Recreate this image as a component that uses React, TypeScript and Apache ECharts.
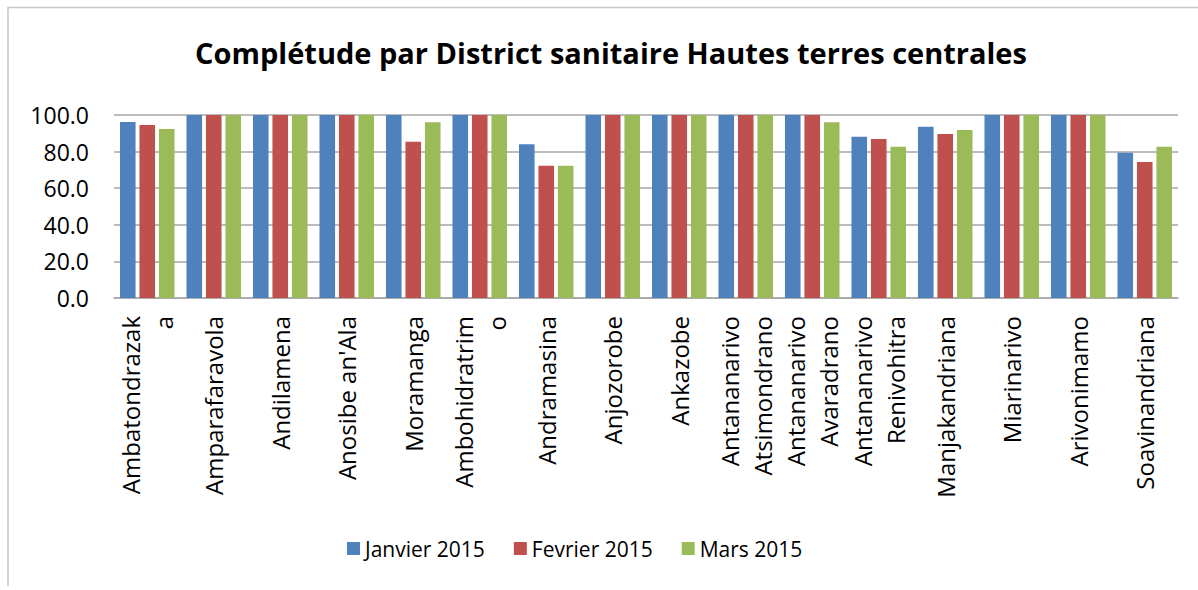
import React, { useEffect, useRef } from "react";
import * as echarts from "echarts";

const title = "Complétude par District sanitaire Hautes terres centrales";
const categories = [
  "Ambatondrazak\na",
  "Amparafaravola",
  "Andilamena",
  "Anosibe an'Ala",
  "Moramanga",
  "Ambohidratrim\no",
  "Andramasina",
  "Anjozorobe",
  "Ankazobe",
  "Antananarivo\nAtsimondrano",
  "Antananarivo\nAvaradrano",
  "Antananarivo\nRenivohitra",
  "Manjakandriana",
  "Miarinarivo",
  "Arivonimamo",
  "Soavinandriana",
];
const seriesNames = ["Janvier 2015", "Fevrier 2015", "Mars 2015"];
const janvier = [96.2, 100, 100, 100, 100, 100, 84.0, 100, 100, 100, 100, 88.1, 93.6, 100, 100, 79.4];
const fevrier = [94.5, 100, 100, 100, 85.4, 100, 72.3, 100, 100, 100, 100, 86.9, 89.6, 100, 100, 74.3];
const mars = [92.3, 100, 100, 100, 96.0, 100, 72.3, 100, 100, 100, 96.0, 82.7, 91.8, 100, 100, 82.7];
const colors = ["#4F81BD", "#C0504D", "#9BBB59"];

const FONT = "'Open Sans', 'Liberation Sans', sans-serif";

export default function App() {
  const ref = useRef<HTMLDivElement>(null);
  useEffect(() => {
    if (!ref.current) return;
    const chart = echarts.init(ref.current, null, { renderer: "svg" });
    const values = [janvier, fevrier, mars];
    chart.setOption({
      animation: false,
      backgroundColor: "#ffffff",
      color: colors,
      title: {
        text: title,
        left: 611,
        top: 38,
        textAlign: "center",
        padding: 0,
        textStyle: { fontFamily: FONT, fontWeight: "bold", fontSize: 29, color: "#000" },
      },
      graphic: [
        {
          type: "polyline",
          shape: { points: [[8, 586], [8, 7.5], [1198, 7.5]] },
          style: { stroke: "#c8c8c8", lineWidth: 1.5, fill: null },
          silent: true,
        },
      ],
      legend: {
        left: 347,
        top: 538,
        padding: 0,
        itemWidth: 13,
        itemHeight: 13,
        itemGap: 29,
        icon: "rect",
        textStyle: { fontFamily: FONT, fontSize: 21, color: "#000" },
        data: seriesNames,
      },
      grid: { left: 114, right: 20, top: 115, bottom: 292, containLabel: false },
      xAxis: {
        type: "category",
        data: categories,
        axisLine: { show: true, lineStyle: { color: "#a6a6a6", width: 1.5 } },
        axisTick: { show: false },
        axisLabel: {
          interval: 0,
          rotate: 90,
          margin: 18,
          lineHeight: 33,
          fontFamily: FONT,
          fontSize: 24,
          color: "#000",
        },
      },
      yAxis: {
        type: "value",
        min: 0,
        max: 100,
        interval: 20,
        axisLine: { show: false },
        axisTick: { show: false },
        splitLine: { show: true, lineStyle: { color: "#a6a6a6", width: 1.5 } },
        axisLabel: {
          margin: 25,
          fontFamily: FONT,
          fontSize: 23,
          color: "#000",
          formatter: (v: number) => v.toFixed(1),
        },
      },
      series: seriesNames.map((name, i) => ({
        name,
        type: "bar",
        data: values[i],
        barGap: "25%",
        barCategoryGap: "18%",
        itemStyle: { color: colors[i] },
      })),
    });
    return () => chart.dispose();
  }, []);
  return (
    <div
      ref={ref}
      style={{ position: "absolute", left: 0, top: 0, width: 1198, height: 590 }}
    />
  );
}
